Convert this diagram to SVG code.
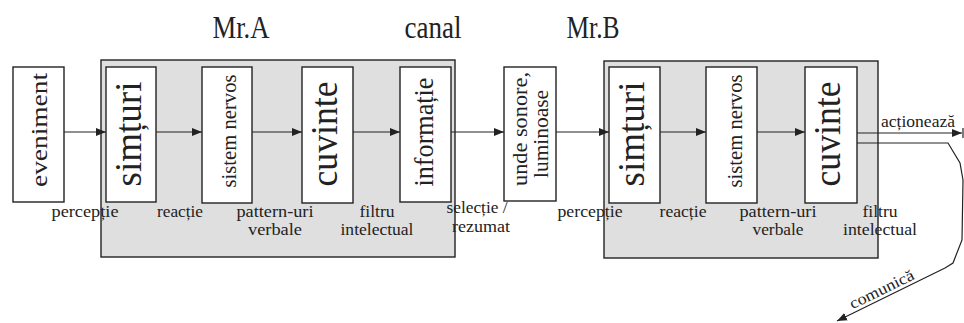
<svg xmlns="http://www.w3.org/2000/svg" width="964" height="323" viewBox="0 0 964 323">
<style>
text{font-family:"Liberation Serif","DejaVu Serif",serif;fill:#222}
.t{font-size:32px;text-anchor:middle}
.l{font-size:16px;text-anchor:middle}
.grp{fill:#dfdfdf;stroke:#222;stroke-width:1.4}
.box{fill:#fff;stroke:#222;stroke-width:1.4}
.c{stroke:#222;stroke-width:1.2;fill:none}
</style>
<defs>
<marker id="ah" viewBox="0 0 10 10" refX="10" refY="5" markerWidth="10" markerHeight="10" markerUnits="userSpaceOnUse" orient="auto">
<path d="M0,1 L10,5 L0,9 Z" fill="#222"/>
</marker>
</defs>
<g id="titles">
<text class="t" x="241" y="38" textLength="57" lengthAdjust="spacingAndGlyphs">Mr.A</text>
<text class="t" x="433" y="38" textLength="57" lengthAdjust="spacingAndGlyphs">canal</text>
<text class="t" x="593" y="38" textLength="53" lengthAdjust="spacingAndGlyphs">Mr.B</text>
</g>
<g id="mrA"><rect class="grp" x="101" y="60" width="354" height="197"/></g>
<g id="mrB"><rect class="grp" x="604" y="61" width="274" height="197"/></g>
<g id="eveniment">
<rect class="box" x="13" y="67" width="51" height="135"/>
<text transform="translate(47,130) rotate(-90)" font-size="24" text-anchor="middle" textLength="114" lengthAdjust="spacingAndGlyphs">eveniment</text>
</g>
<g id="simturiA">
<rect class="box" x="106" y="67" width="50" height="135"/>
<text transform="translate(141,134) rotate(-90)" font-size="37" text-anchor="middle" textLength="105" lengthAdjust="spacingAndGlyphs">simțuri</text>
</g>
<g id="nervosA">
<rect class="box" x="202" y="67" width="50" height="136"/>
<text transform="translate(236,131) rotate(-90)" font-size="21" text-anchor="middle" textLength="113" lengthAdjust="spacingAndGlyphs">sistem nervos</text>
</g>
<g id="cuvinteA">
<rect class="box" x="302" y="67" width="51" height="136"/>
<text transform="translate(337,134) rotate(-90)" font-size="37" text-anchor="middle" textLength="105" lengthAdjust="spacingAndGlyphs">cuvinte</text>
</g>
<g id="informatie">
<rect class="box" x="400" y="67" width="51" height="135"/>
<text transform="translate(433,132) rotate(-90)" font-size="27" text-anchor="middle" textLength="109" lengthAdjust="spacingAndGlyphs">informație</text>
</g>
<g id="unde">
<rect class="box" x="504" y="67" width="52" height="134"/>
<text transform="translate(527,129) rotate(-90)" font-size="21" text-anchor="middle" textLength="114" lengthAdjust="spacingAndGlyphs">unde sonore,</text>
<text transform="translate(548,134) rotate(-90)" font-size="21" text-anchor="middle" textLength="88" lengthAdjust="spacingAndGlyphs">luminoase</text>
</g>
<g id="simturiB">
<rect class="box" x="609" y="67" width="51" height="136"/>
<text transform="translate(644,134) rotate(-90)" font-size="37" text-anchor="middle" textLength="105" lengthAdjust="spacingAndGlyphs">simțuri</text>
</g>
<g id="nervosB">
<rect class="box" x="706" y="67" width="51" height="136"/>
<text transform="translate(742,131) rotate(-90)" font-size="21" text-anchor="middle" textLength="113" lengthAdjust="spacingAndGlyphs">sistem nervos</text>
</g>
<g id="cuvinteB">
<rect class="box" x="805" y="67" width="52" height="136"/>
<text transform="translate(840,134) rotate(-90)" font-size="37" text-anchor="middle" textLength="105" lengthAdjust="spacingAndGlyphs">cuvinte</text>
</g>
<g id="connectors">
<line class="c" x1="64" y1="132" x2="106" y2="132" marker-end="url(#ah)"/>
<line class="c" x1="156" y1="132" x2="202" y2="132" marker-end="url(#ah)"/>
<line class="c" x1="252" y1="132" x2="302" y2="132" marker-end="url(#ah)"/>
<line class="c" x1="353" y1="132" x2="400" y2="132" marker-end="url(#ah)"/>
<line class="c" x1="451" y1="132" x2="504" y2="132" marker-end="url(#ah)"/>
<line class="c" x1="556" y1="132" x2="609" y2="132" marker-end="url(#ah)"/>
<line class="c" x1="660" y1="132" x2="706" y2="132" marker-end="url(#ah)"/>
<line class="c" x1="757" y1="132" x2="805" y2="132" marker-end="url(#ah)"/>
<line class="c" x1="857" y1="133" x2="962" y2="133" marker-end="url(#ah)"/>
<line class="c" x1="963" y1="128" x2="963" y2="138"/>
<path class="c" d="M857,143 L948,143 L960,163 L963,180 L962,240 L953,263 L945,268 L837,321" marker-end="url(#ah)"/>
</g>
<g id="labels">
<text class="l" x="85" y="217" textLength="67" lengthAdjust="spacingAndGlyphs">percepție</text>
<text class="l" x="180" y="217" textLength="46" lengthAdjust="spacingAndGlyphs">reacție</text>
<text class="l" x="275" y="217" textLength="77" lengthAdjust="spacingAndGlyphs">pattern-uri</text>
<text class="l" x="275" y="235" textLength="54" lengthAdjust="spacingAndGlyphs">verbale</text>
<text class="l" x="377" y="217" textLength="35" lengthAdjust="spacingAndGlyphs">filtru</text>
<text class="l" x="377" y="235" textLength="73" lengthAdjust="spacingAndGlyphs">intelectual</text>
<text class="l" x="477" y="213" textLength="61" lengthAdjust="spacingAndGlyphs">selecție /</text>
<text class="l" x="481" y="232" textLength="58" lengthAdjust="spacingAndGlyphs">rezumat</text>
<text class="l" x="590" y="217" textLength="65" lengthAdjust="spacingAndGlyphs">percepție</text>
<text class="l" x="683" y="217" textLength="47" lengthAdjust="spacingAndGlyphs">reacție</text>
<text class="l" x="778" y="217" textLength="77" lengthAdjust="spacingAndGlyphs">pattern-uri</text>
<text class="l" x="778" y="235" textLength="51" lengthAdjust="spacingAndGlyphs">verbale</text>
<text class="l" x="880" y="217" textLength="35" lengthAdjust="spacingAndGlyphs">filtru</text>
<text class="l" x="880" y="235" textLength="74" lengthAdjust="spacingAndGlyphs">intelectual</text>
<text class="l" x="918" y="127" textLength="74" lengthAdjust="spacingAndGlyphs">acționează</text>
<text class="l" transform="translate(884,294) rotate(-26)" x="0" y="0" textLength="70" lengthAdjust="spacingAndGlyphs">comunică</text>
</g>
</svg>
